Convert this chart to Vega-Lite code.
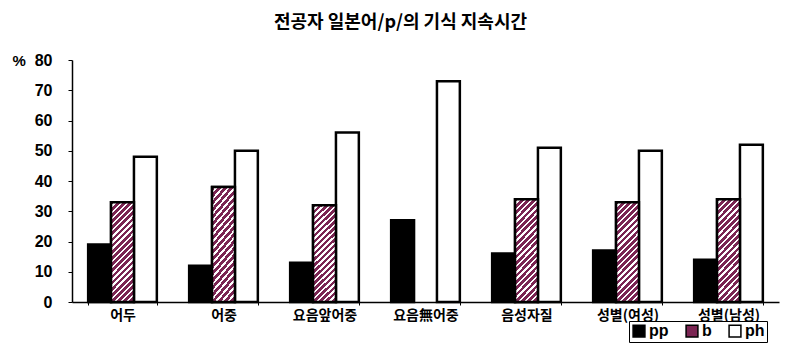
{
  "$schema": "https://vega.github.io/schema/vega-lite/v6.json",
  "width": 707,
  "height": 242,
  "autosize": "none",
  "padding": {"left": 72, "top": 60, "right": 6, "bottom": 45},
  "background": "white",
  "title": {
    "text": "전공자 일본어/p/의 기식 지속시간",
    "font": "Noto Sans CJK KR",
    "fontSize": 18,
    "fontWeight": "bold",
    "color": "black",
    "anchor": "middle",
    "dx": -25,
    "offset": 20
  },
  "data": {
    "values": [
      {"cat": "어두", "series": "pp", "value": 19},
      {"cat": "어두", "series": "b", "value": 33},
      {"cat": "어두", "series": "ph", "value": 48},
      {"cat": "어중", "series": "pp", "value": 12},
      {"cat": "어중", "series": "b", "value": 38},
      {"cat": "어중", "series": "ph", "value": 50},
      {"cat": "요음앞어중", "series": "pp", "value": 13},
      {"cat": "요음앞어중", "series": "b", "value": 32},
      {"cat": "요음앞어중", "series": "ph", "value": 56},
      {"cat": "요음無어중", "series": "pp", "value": 27},
      {"cat": "요음無어중", "series": "ph", "value": 73},
      {"cat": "음성자질", "series": "pp", "value": 16},
      {"cat": "음성자질", "series": "b", "value": 34},
      {"cat": "음성자질", "series": "ph", "value": 51},
      {"cat": "성별(여성)", "series": "pp", "value": 17},
      {"cat": "성별(여성)", "series": "b", "value": 33},
      {"cat": "성별(여성)", "series": "ph", "value": 50},
      {"cat": "성별(남성)", "series": "pp", "value": 14},
      {"cat": "성별(남성)", "series": "b", "value": 34},
      {"cat": "성별(남성)", "series": "ph", "value": 52}
    ]
  },
  "encoding": {
    "x": {
      "field": "cat",
      "type": "nominal",
      "sort": null,
      "scale": {"paddingInner": 0.32, "paddingOuter": 0.16},
      "axis": {
        "title": null,
        "labelAngle": 0,
        "labelFont": "Noto Sans CJK KR",
        "labelFontSize": 14,
        "labelFontWeight": "bold",
        "labelColor": "black",
        "labelPadding": 3,
        "tickBand": "extent",
        "tickSize": 3,
        "tickColor": "black",
        "domainColor": "black",
        "domainWidth": 1.5
      }
    },
    "xOffset": {
      "field": "series",
      "type": "nominal",
      "scale": {"domain": ["pp", "b", "ph"], "paddingInner": 0, "paddingOuter": 0}
    },
    "y": {
      "field": "value",
      "type": "quantitative",
      "scale": {"domain": [0, 80]},
      "axis": {
        "title": "%",
        "titleAngle": 0,
        "titleX": -60,
        "titleY": 0,
        "titleAlign": "left",
        "titleBaseline": "middle",
        "titleFont": "Liberation Sans",
        "titleFontSize": 15,
        "titleFontWeight": "bold",
        "titleColor": "black",
        "values": [0, 10, 20, 30, 40, 50, 60, 70, 80],
        "grid": false,
        "labelFont": "Liberation Sans",
        "labelFontSize": 16,
        "labelFontWeight": "bold",
        "labelColor": "black",
        "tickSize": 4,
        "tickColor": "black",
        "labelPadding": 16,
        "domainColor": "black",
        "domainWidth": 1.5
      }
    }
  },
  "layer": [
    {
      "mark": {"type": "bar", "stroke": "black", "strokeWidth": 2.5},
      "encoding": {
        "fill": {
          "field": "series",
          "type": "nominal",
          "scale": {"domain": ["pp", "b", "ph"], "range": ["black", "#7b2553", "white"]},
          "legend": {
            "title": null,
            "orient": "none",
            "legendX": 557,
            "legendY": 261,
            "direction": "horizontal",
            "symbolType": "square",
            "symbolSize": 140,
            "symbolStrokeColor": "black",
            "symbolStrokeWidth": 1.5,
            "labelFont": "Liberation Sans",
            "labelFontSize": 16,
            "labelFontWeight": "bold",
            "labelColor": "black",
            "labelOffset": 2,
            "columnPadding": 14,
            "padding": 2,
            "strokeColor": "black",
            "fillColor": "white"
          }
        }
      }
    },
    {
      "transform": [{"filter": "datum.series === 'b'"}],
      "mark": {
        "type": "bar",
        "stroke": "black",
        "strokeWidth": 2.5,
        "fill": {
          "gradient": "linear",
          "x1": 0, "y1": 0, "x2": 0.27, "y2": 1.17,
          "stops": [
            {"offset": 0.00, "color": "#7b2553"}, {"offset": 0.03, "color": "#7b2553"}, {"offset": 0.03, "color": "white"}, {"offset": 0.05, "color": "white"},
            {"offset": 0.05, "color": "#7b2553"}, {"offset": 0.08, "color": "#7b2553"}, {"offset": 0.08, "color": "white"}, {"offset": 0.10, "color": "white"},
            {"offset": 0.10, "color": "#7b2553"}, {"offset": 0.13, "color": "#7b2553"}, {"offset": 0.13, "color": "white"}, {"offset": 0.15, "color": "white"},
            {"offset": 0.15, "color": "#7b2553"}, {"offset": 0.18, "color": "#7b2553"}, {"offset": 0.18, "color": "white"}, {"offset": 0.20, "color": "white"},
            {"offset": 0.20, "color": "#7b2553"}, {"offset": 0.23, "color": "#7b2553"}, {"offset": 0.23, "color": "white"}, {"offset": 0.25, "color": "white"},
            {"offset": 0.25, "color": "#7b2553"}, {"offset": 0.28, "color": "#7b2553"}, {"offset": 0.28, "color": "white"}, {"offset": 0.30, "color": "white"},
            {"offset": 0.30, "color": "#7b2553"}, {"offset": 0.33, "color": "#7b2553"}, {"offset": 0.33, "color": "white"}, {"offset": 0.35, "color": "white"},
            {"offset": 0.35, "color": "#7b2553"}, {"offset": 0.38, "color": "#7b2553"}, {"offset": 0.38, "color": "white"}, {"offset": 0.40, "color": "white"},
            {"offset": 0.40, "color": "#7b2553"}, {"offset": 0.43, "color": "#7b2553"}, {"offset": 0.43, "color": "white"}, {"offset": 0.45, "color": "white"},
            {"offset": 0.45, "color": "#7b2553"}, {"offset": 0.48, "color": "#7b2553"}, {"offset": 0.48, "color": "white"}, {"offset": 0.50, "color": "white"},
            {"offset": 0.50, "color": "#7b2553"}, {"offset": 0.53, "color": "#7b2553"}, {"offset": 0.53, "color": "white"}, {"offset": 0.55, "color": "white"},
            {"offset": 0.55, "color": "#7b2553"}, {"offset": 0.58, "color": "#7b2553"}, {"offset": 0.58, "color": "white"}, {"offset": 0.60, "color": "white"},
            {"offset": 0.60, "color": "#7b2553"}, {"offset": 0.63, "color": "#7b2553"}, {"offset": 0.63, "color": "white"}, {"offset": 0.65, "color": "white"},
            {"offset": 0.65, "color": "#7b2553"}, {"offset": 0.68, "color": "#7b2553"}, {"offset": 0.68, "color": "white"}, {"offset": 0.70, "color": "white"},
            {"offset": 0.70, "color": "#7b2553"}, {"offset": 0.73, "color": "#7b2553"}, {"offset": 0.73, "color": "white"}, {"offset": 0.75, "color": "white"},
            {"offset": 0.75, "color": "#7b2553"}, {"offset": 0.78, "color": "#7b2553"}, {"offset": 0.78, "color": "white"}, {"offset": 0.80, "color": "white"},
            {"offset": 0.80, "color": "#7b2553"}, {"offset": 0.83, "color": "#7b2553"}, {"offset": 0.83, "color": "white"}, {"offset": 0.85, "color": "white"},
            {"offset": 0.85, "color": "#7b2553"}, {"offset": 0.88, "color": "#7b2553"}, {"offset": 0.88, "color": "white"}, {"offset": 0.90, "color": "white"},
            {"offset": 0.90, "color": "#7b2553"}, {"offset": 0.93, "color": "#7b2553"}, {"offset": 0.93, "color": "white"}, {"offset": 0.95, "color": "white"},
            {"offset": 0.95, "color": "#7b2553"}, {"offset": 0.98, "color": "#7b2553"}, {"offset": 0.98, "color": "white"}, {"offset": 1.00, "color": "white"}
          ]
        }
      },
      "encoding": {}
    }
  ],
  "config": {
    "view": {"stroke": null}
  }
}
